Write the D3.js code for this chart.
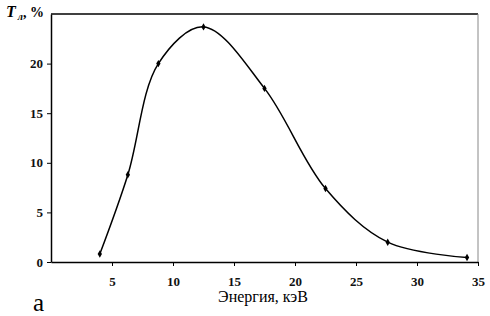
<!DOCTYPE html>
<html>
<head>
<meta charset="utf-8">
<script src="https://cdn.jsdelivr.net/npm/d3@7"></script>
<style>
  body { margin: 0; background: #fff; }
  svg, svg text { font-family: "Liberation Serif", "Times New Roman", serif; }
</style>
</head>
<body>
<div id="chart"></div>
<script>
// energy, keV
const energy = [4.0, 6.3, 8.8, 12.5, 17.5, 22.5, 27.6, 34.1];
// T_l, %
const tValues = [0.8, 8.8, 20.0, 23.7, 17.5, 7.4, 2.0, 0.45];
const xTicks = [5, 10, 15, 20, 25, 30, 35];
const yTicks = [0, 5, 10, 15, 20];

const width = 490, height = 316;
const margin = { top: 14, right: 12, bottom: 54, left: 51 };
const serif = '"Liberation Serif", "Times New Roman", serif';

const svg = d3.select('#chart').append('svg')
    .attr('width', width)
    .attr('height', height)
    .attr('font-family', serif);

const x = d3.scaleLinear()
    .domain([0, 35])
    .range([margin.left, width - margin.right]);

const y = d3.scaleLinear()
    .domain([0, 25])
    .range([height - margin.bottom, margin.top]);

// frame: top black, right grey
svg.append('line')
    .attr('x1', x(0)).attr('x2', x(35))
    .attr('y1', y(25)).attr('y2', y(25))
    .attr('stroke', '#000').attr('stroke-width', 1.5);
svg.append('line')
    .attr('x1', x(35)).attr('x2', x(35))
    .attr('y1', y(25)).attr('y2', y(0))
    .attr('stroke', '#888').attr('stroke-width', 1);

const xAxis = svg.append('g')
    .attr('transform', `translate(0,${y(0)})`)
    .call(d3.axisBottom(x).tickValues(xTicks).tickSize(4).tickSizeOuter(0));

const yAxis = svg.append('g')
    .attr('transform', `translate(${x(0)},0)`)
    .call(d3.axisLeft(y).tickValues(yTicks).tickSize(4).tickSizeOuter(0));

[xAxis, yAxis].forEach(g => {
    g.attr('font-family', serif).attr('font-size', 13).attr('font-weight', 'bold');
    g.select('.domain').attr('stroke', '#000').attr('stroke-width', 1.5);
    g.selectAll('.tick line').attr('stroke', '#000');
    g.selectAll('.tick text').attr('fill', '#111');
});
xAxis.selectAll('.tick text').attr('dy', '1.3em');
yAxis.selectAll('.tick text').attr('x', -8);

const pts = energy.map((e, i) => ({ x: e, y: tValues[i] }));

const line = d3.line()
    .x(d => x(d.x))
    .y(d => y(d.y))
    .curve(d3.curveCatmullRom.alpha(0.5));

svg.append('path')
    .datum(pts)
    .attr('fill', 'none')
    .attr('stroke', '#000')
    .attr('stroke-width', 1.5)
    .attr('d', line);

svg.selectAll('.pt')
    .data(pts)
    .join('path')
    .attr('class', 'pt')
    .attr('transform', d => `translate(${x(d.x)},${y(d.y)})`)
    .attr('d', d3.symbol(d3.symbolDiamond, 16))
    .attr('fill', '#000');

// y title
const yt = svg.append('text')
    .attr('x', 6)
    .attr('y', 17)
    .attr('font-size', 16);
yt.append('tspan').attr('font-weight', 'bold').attr('font-style', 'italic').text('T');
yt.append('tspan').attr('font-style', 'italic').attr('font-weight', 'bold').attr('font-size', 10).attr('dy', 3).attr('dx', 2).text('л');
yt.append('tspan').attr('font-size', 14).attr('font-weight', 'bold').attr('dy', -3).text(', %');

svg.append('text')
    .attr('x', 263)
    .attr('y', 302)
    .attr('text-anchor', 'middle')
    .attr('font-size', 16)
    .text('Энергия, кэВ');

svg.append('text')
    .attr('x', 33)
    .attr('y', 311)
    .attr('font-size', 25)
    .text('а');
</script>
</body>
</html>
